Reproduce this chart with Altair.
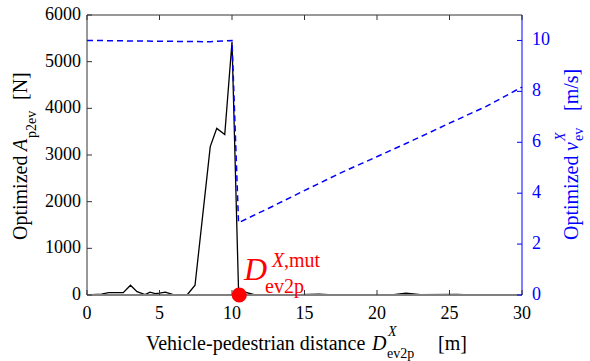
import altair as alt
import pandas as pd

# ---- data ----
dist_a = [0, 1.0, 1.5, 2.5, 3.0, 3.45, 4.0, 4.35, 4.7, 5.0, 5.4, 5.95, 6.9, 7.45, 8.5, 8.95,
          9.5, 10.0, 10.45, 11.6, 13.0, 14.0, 16.0, 17.0, 21.0, 22.0, 23.0, 25.5, 26.5, 30.0]
force_a = [0, 20, 50, 50, 210, 70, 10, 60, 30, 40, 60, 10, 0, 210, 3180, 3570,
           3440, 5420, 100, 0, 10, 0, 20, 0, 0, 40, 10, 15, 0, 0]

dist_v = [0, 5.0, 8.5, 10.0, 10.45, 12.5, 14.7, 17.5, 19.0, 22.0, 25.0, 27.5, 30.0]
speed_v = [10.0, 9.97, 9.95, 10.0, 2.84, 3.4, 4.02, 4.8, 5.18, 5.95, 6.75, 7.4, 8.17]

mut_x = [10.5]
mut_y = [0]

x_ticks = [0, 5, 10, 15, 20, 25, 30]
left_ticks = [0, 1000, 2000, 3000, 4000, 5000, 6000]
right_ticks = [0, 2, 4, 6, 8, 10]

FONT = "Liberation Serif"
W, H = 435, 280
BLUE = "#0000FF"
DARK = "#333333"

df_a = pd.DataFrame({"d": dist_a, "A": force_a})
df_v = pd.DataFrame({"d": dist_v, "v": speed_v})
df_mut = pd.DataFrame({"d": mut_x, "A": mut_y})
df_xt = pd.DataFrame({"t": x_ticks})
df_lt = pd.DataFrame({"t": left_ticks})
df_rt = pd.DataFrame({"t": right_ticks})
one = pd.DataFrame({"k": [0]})

xscale = alt.Scale(domain=[0, 30], nice=False, zero=False)
lscale = alt.Scale(domain=[0, 6000], nice=False)
rscale = alt.Scale(domain=[0, 11], nice=False)

X = lambda f: alt.X(f, scale=xscale, axis=None)
YL = lambda f: alt.Y(f, scale=lscale, axis=None)
YR = lambda f: alt.Y(f, scale=rscale, axis=None)


def txt(s, x, y, size=20, color="black", italic=False, angle=0):
    return alt.Chart(one).mark_text(
        text=s, align="left", baseline="alphabetic", font=FONT, fontSize=size,
        fontStyle="italic" if italic else "normal", color=color, angle=angle
    ).encode(x=alt.value(x), y=alt.value(y))


# frame
bottom_line = alt.Chart(one).mark_rule(color="#808080", strokeWidth=2).encode(
    x=alt.value(0), x2=alt.value(W), y=alt.value(H))
top_line = alt.Chart(one).mark_rule(color=DARK, strokeWidth=1).encode(
    x=alt.value(0), x2=alt.value(W), y=alt.value(0))
left_line = alt.Chart(one).mark_rule(color=DARK, strokeWidth=1).encode(
    x=alt.value(0), y=alt.value(0), y2=alt.value(H))
right_line = alt.Chart(one).mark_rule(color=BLUE, strokeWidth=1).encode(
    x=alt.value(W), y=alt.value(0), y2=alt.value(H))

# inward ticks
xt_bottom = alt.Chart(df_xt).mark_rule(color=DARK).encode(
    x=X("t:Q"), y=alt.value(H), y2=alt.value(H - 5))
xt_top = alt.Chart(df_xt).mark_rule(color=DARK).encode(
    x=X("t:Q"), y=alt.value(0), y2=alt.value(5))
lt_rule = alt.Chart(df_lt).mark_rule(color=DARK).encode(
    y=YL("t:Q"), x=alt.value(0), x2=alt.value(5))
rt_rule = alt.Chart(df_rt).mark_rule(color=BLUE).encode(
    y=YR("t:Q"), x=alt.value(W - 5), x2=alt.value(W))

# tick labels
xt_lab = alt.Chart(df_xt).mark_text(font=FONT, fontSize=18, align="center",
                                     baseline="alphabetic", color="black").encode(
    x=X("t:Q"), y=alt.value(H + 24), text=alt.Text("t:Q", format="d"))
lt_lab = alt.Chart(df_lt).mark_text(font=FONT, fontSize=18, align="right",
                                     baseline="middle", color="black").encode(
    y=YL("t:Q"), x=alt.value(-6), text=alt.Text("t:Q", format="d"))
rt_lab = alt.Chart(df_rt).mark_text(font=FONT, fontSize=18, align="left",
                                     baseline="middle", color=BLUE).encode(
    y=YR("t:Q"), x=alt.value(W + 10), text=alt.Text("t:Q", format="d"))

# data
black = alt.Chart(df_a).mark_line(color="black", strokeWidth=1.3).encode(
    x=X("d:Q"), y=YL("A:Q"))
blue = alt.Chart(df_v).mark_line(color=BLUE, strokeWidth=1.5, strokeDash=[6, 4]).encode(
    x=X("d:Q"), y=YR("v:Q"))
dot = alt.Chart(df_mut).mark_circle(color="red", opacity=1, size=230).encode(
    x=X("d:Q"), y=YL("A:Q"))

texts = [
    # left title
    txt("Optimized", -60, 225, angle=270),
    txt("A", -60, 136, italic=True, angle=270),
    txt("p2ev", -51, 123, size=14, angle=270),
    txt("[N]", -60, 85, angle=270),
    # right title
    txt("Optimized", 491, 225, color=BLUE, angle=270),
    txt("v", 491, 136, color=BLUE, italic=True, angle=270),
    txt("X", 478, 126, size=14, color=BLUE, italic=True, angle=270),
    txt("ev", 496, 126, size=14, color=BLUE, angle=270),
    txt("[m/s]", 491, 96, color=BLUE, angle=270),
    # bottom title
    txt("Vehicle-pedestrian distance", 59, 335),
    txt("D", 285, 335, italic=True),
    txt("X", 301, 321, size=14, italic=True),
    txt("ev2p", 300, 343, size=14),
    txt("[m]", 351, 335),
    # red annotation
    txt("D", 157, 265, size=32, color="red", italic=True),
    txt("X", 185, 252, size=20, color="red", italic=True),
    txt(",mut", 197, 252, size=20, color="red"),
    txt("ev2p", 178, 278, size=20, color="red"),
]

chart = alt.layer(
    black, blue, bottom_line, top_line, left_line, right_line,
    xt_bottom, xt_top, lt_rule, rt_rule, xt_lab, lt_lab, rt_lab,
    dot, *texts
).resolve_scale(y="independent").properties(
    width=W, height=H,
    autosize=alt.AutoSizeParams(type="none"),
    padding={"left": 87, "top": 15, "right": 68, "bottom": 66},
    background="white",
).configure_view(stroke=None)

chart.save("out.html", embed_options={"renderer": "svg", "actions": False})
